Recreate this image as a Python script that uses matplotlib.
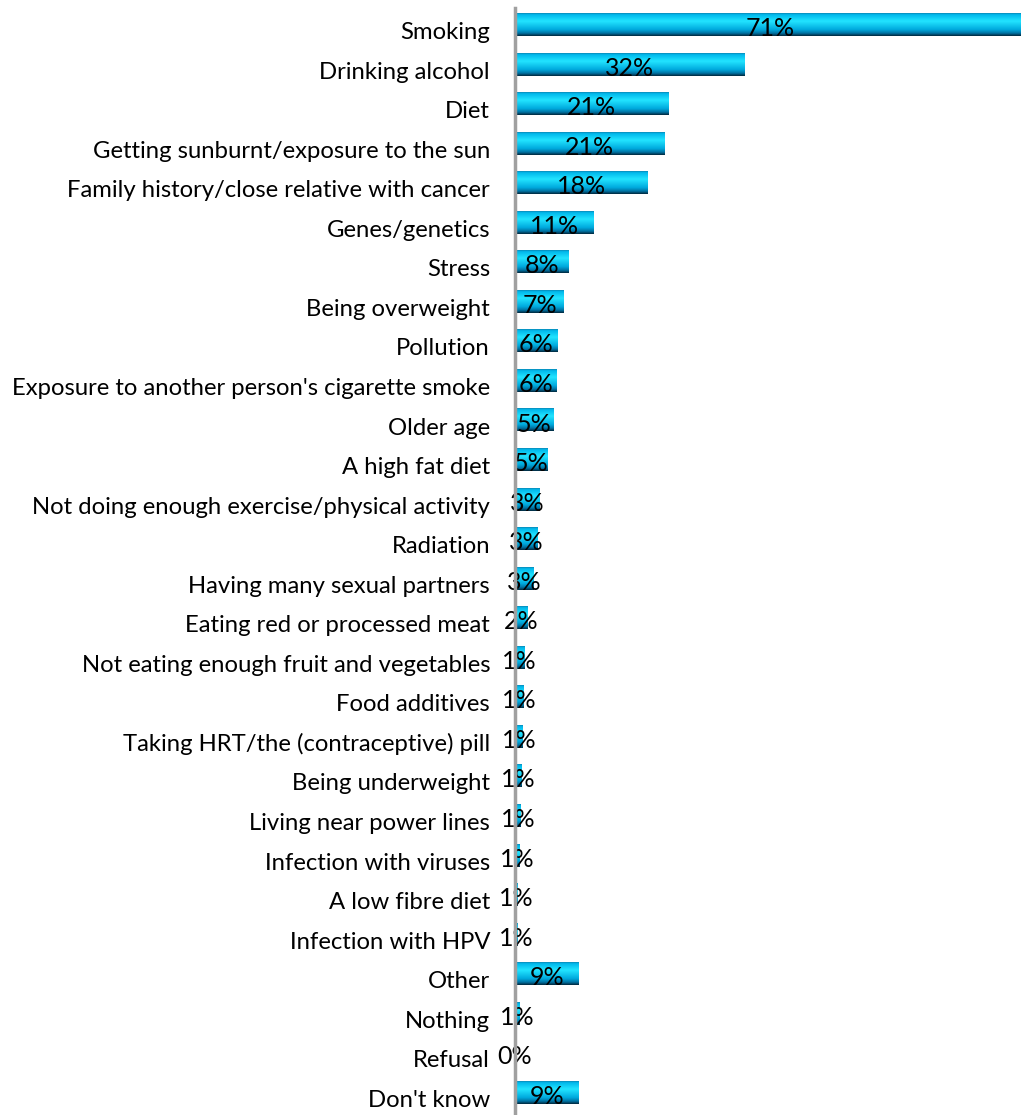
import matplotlib
matplotlib.use("Agg")
import matplotlib.pyplot as plt
import matplotlib.transforms as mtransforms
import numpy as np
from matplotlib.colors import LinearSegmentedColormap

# perceived causes of cancer, % of respondents
causes = ["Smoking", "Drinking alcohol", "Diet", "Getting sunburnt/exposure to the sun",
          "Family history/close relative with cancer", "Genes/genetics", "Stress",
          "Being overweight", "Pollution", "Exposure to another person's cigarette smoke",
          "Older age", "A high fat diet", "Not doing enough exercise/physical activity",
          "Radiation", "Having many sexual partners", "Eating red or processed meat",
          "Not eating enough fruit and vegetables", "Food additives",
          "Taking HRT/the (contraceptive) pill", "Being underweight",
          "Living near power lines", "Infection with viruses", "A low fibre diet",
          "Infection with HPV", "Other", "Nothing", "Refusal", "Don't know"]
# bar lengths (unrounded where the bar is visibly longer/shorter than the label)
values = [71, 32, 21.4, 20.8, 18.4, 10.9, 7.5, 6.8, 5.9, 5.8, 5.3, 4.5, 3.4, 3.1,
          2.6, 1.8, 1.3, 1.2, 1.1, 0.9, 0.8, 0.6, 0.4, 0.3, 8.8, 0.6, 0.0, 8.9]
labels = ["71%", "32%", "21%", "21%", "18%", "11%", "8%", "7%", "6%", "6%", "5%", "5%",
          "3%", "3%", "3%", "2%", "1%", "1%", "1%", "1%", "1%", "1%", "1%", "1%",
          "9%", "1%", "0%", "9%"]

plt.rcParams['font.family'] = ['Lato', 'DejaVu Sans']

# cylinder-like shading for the bars
shade = LinearSegmentedColormap.from_list("bar", [
    (0.0, "#0a88b6"), (0.06, "#00b8ec"), (0.35, "#22e4ff"),
    (0.72, "#00aade"), (0.88, "#0074a4"), (1.0, "#00283e")])
grad = shade(np.linspace(0, 1, 64))[:, None, :]

fig = plt.figure(figsize=(10.21, 11.15), dpi=100)
ax = fig.add_axes([515 / 1021, 0, 1 - 515 / 1021, 1107 / 1115])

h = 0.58
for i, (v, lab) in enumerate(zip(values, labels)):
    if v > 0:
        ax.imshow(grad, extent=(0, v, i + h / 2, i - h / 2), origin='upper',
                  aspect='auto', interpolation='bilinear', zorder=2)
    t = ax.text(v / 2, i, lab, ha='center', va='center', fontsize=18,
                color='black', zorder=3)
    t.set_transform(ax.transData + mtransforms.ScaledTranslation(0, -4 / 100, fig.dpi_scale_trans))

ax.set_xlim(0, 70.4)
ax.set_ylim(27 + 22.6 / 39.55, -16.5 / 39.55)
ax.set_yticks(range(len(causes)))
ax.set_yticklabels(causes, fontsize=17.2)
ax.tick_params(axis='y', length=0, pad=18)
ax.set_xticks([])
shift = mtransforms.ScaledTranslation(0, -6 / 100, fig.dpi_scale_trans)
for lab in ax.get_yticklabels():
    lab.set_transform(lab.get_transform() + shift)

for side in ['top', 'right', 'bottom']:
    ax.spines[side].set_visible(False)
ax.spines['left'].set_color('#a0a0a0')
ax.spines['left'].set_linewidth(2.5)
ax.spines['left'].set_zorder(4)

fig.savefig("out.png", dpi=100)
